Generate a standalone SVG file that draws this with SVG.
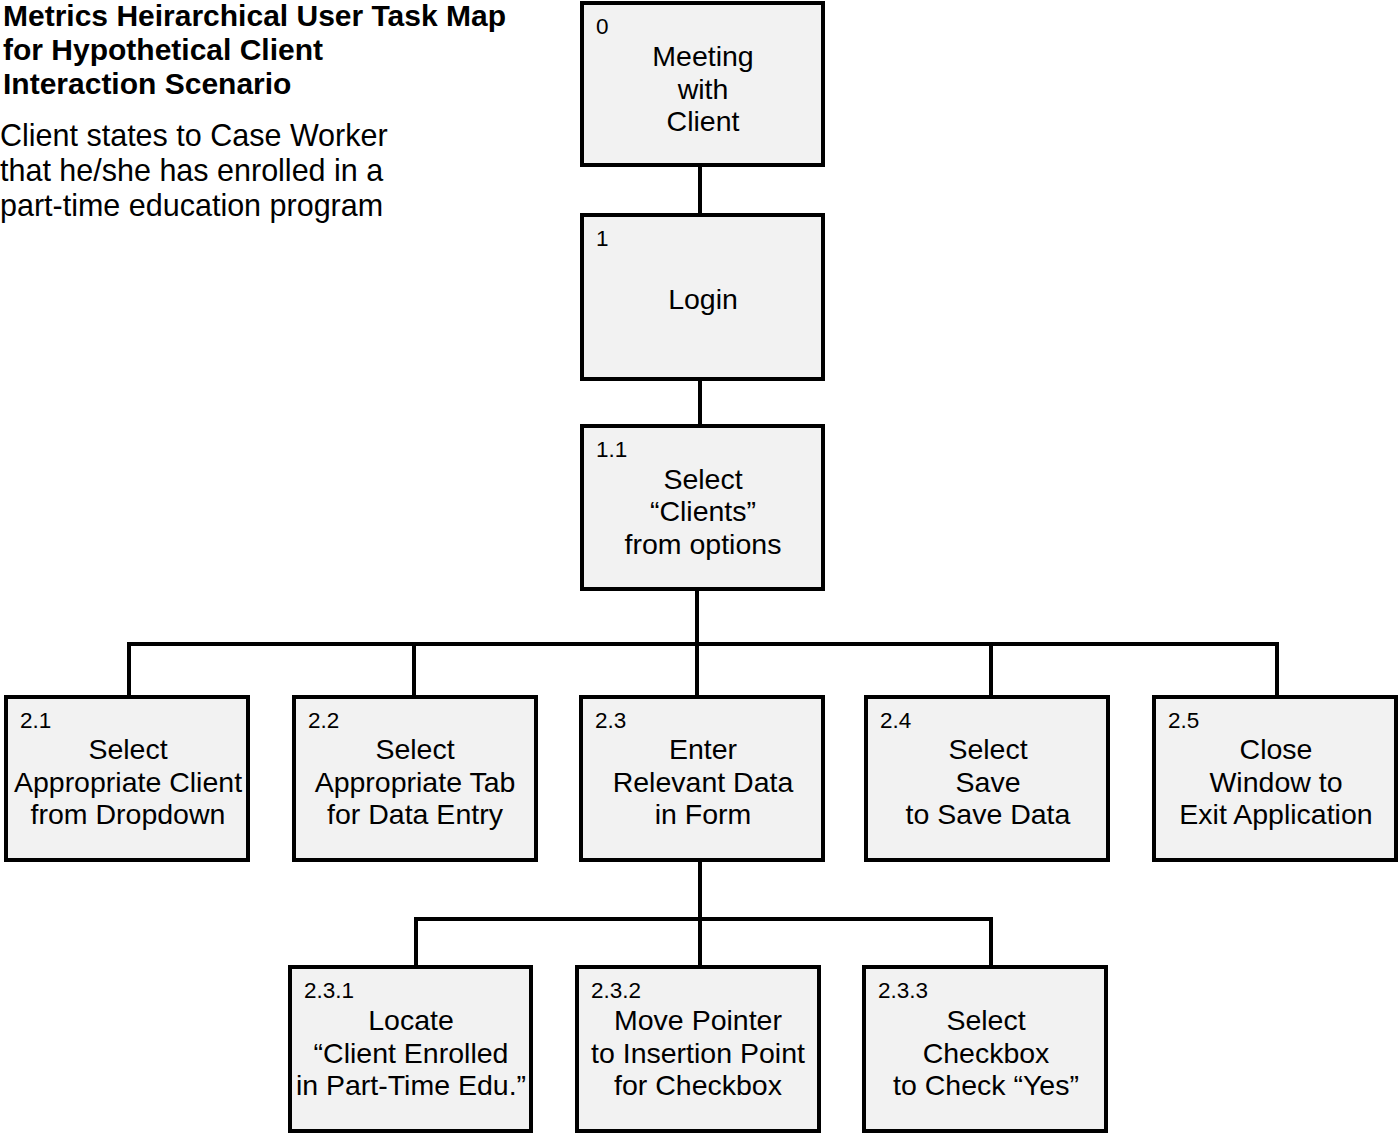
<svg xmlns="http://www.w3.org/2000/svg" width="1398" height="1134" viewBox="0 0 1398 1134">
<style>
.box{fill:#f2f2f2;stroke:#000;stroke-width:4}
.num{font-family:"Liberation Sans",Arial,sans-serif;font-size:22.5px;fill:#000}
.lbl{font-family:"Liberation Sans",Arial,sans-serif;font-size:28.5px;fill:#000;text-anchor:middle}
.title{font-family:"Liberation Sans",Arial,sans-serif;font-size:30px;font-weight:bold;fill:#000}
.desc{font-family:"Liberation Sans",Arial,sans-serif;font-size:30.5px;fill:#000}
.conn{fill:none;stroke:#000;stroke-width:4}
</style>
<rect width="1398" height="1134" fill="#fff"/>
<g id="title">
<text class="title" x="3" y="26">Metrics Heirarchical User Task Map</text>
<text class="title" x="3" y="60">for Hypothetical Client</text>
<text class="title" x="3" y="94">Interaction Scenario</text>
<text class="desc" x="0" y="146">Client states to Case Worker</text>
<text class="desc" x="0" y="181">that he/she has enrolled in a</text>
<text class="desc" x="0" y="216">part-time education program</text>
</g>
<g id="connectors">
<line class="conn" x1="700" y1="165" x2="700" y2="215"/>
<line class="conn" x1="700" y1="379" x2="700" y2="426"/>
<line class="conn" x1="697" y1="589" x2="697" y2="697"/>
<polyline class="conn" points="129,697 129,644 1277,644 1277,697"/>
<line class="conn" x1="414" y1="644" x2="414" y2="697"/>
<line class="conn" x1="991" y1="644" x2="991" y2="697"/>
<line class="conn" x1="700" y1="860" x2="700" y2="967"/>
<polyline class="conn" points="416,967 416,919 991,919 991,967"/>
</g>
<g id="n0"><rect class="box" x="582" y="3" width="241" height="162"/><text class="num" x="596" y="34">0</text><text class="lbl" x="703" y="66">Meeting</text><text class="lbl" x="703" y="99">with</text><text class="lbl" x="703" y="131">Client</text></g>
<g id="n1"><rect class="box" x="582" y="215" width="241" height="164"/><text class="num" x="596" y="246">1</text><text class="lbl" x="703" y="309">Login</text></g>
<g id="n1_1"><rect class="box" x="582" y="426" width="241" height="163"/><text class="num" x="596" y="457">1.1</text><text class="lbl" x="703" y="489">Select</text><text class="lbl" x="703" y="521">“Clients”</text><text class="lbl" x="703" y="554">from options</text></g>
<g id="n2_1"><rect class="box" x="6" y="697" width="242" height="163"/><text class="num" x="20" y="728">2.1</text><text class="lbl" x="128" y="759">Select</text><text class="lbl" x="128" y="792">Appropriate Client</text><text class="lbl" x="128" y="824">from Dropdown</text></g>
<g id="n2_2"><rect class="box" x="294" y="697" width="242" height="163"/><text class="num" x="308" y="728">2.2</text><text class="lbl" x="415" y="759">Select</text><text class="lbl" x="415" y="792">Appropriate Tab</text><text class="lbl" x="415" y="824">for Data Entry</text></g>
<g id="n2_3"><rect class="box" x="581" y="697" width="242" height="163"/><text class="num" x="595" y="728">2.3</text><text class="lbl" x="703" y="759">Enter</text><text class="lbl" x="703" y="792">Relevant Data</text><text class="lbl" x="703" y="824">in Form</text></g>
<g id="n2_4"><rect class="box" x="866" y="697" width="242" height="163"/><text class="num" x="880" y="728">2.4</text><text class="lbl" x="988" y="759">Select</text><text class="lbl" x="988" y="792">Save</text><text class="lbl" x="988" y="824">to Save Data</text></g>
<g id="n2_5"><rect class="box" x="1154" y="697" width="242" height="163"/><text class="num" x="1168" y="728">2.5</text><text class="lbl" x="1276" y="759">Close</text><text class="lbl" x="1276" y="792">Window to</text><text class="lbl" x="1276" y="824">Exit Application</text></g>
<g id="n2_3_1"><rect class="box" x="290" y="967" width="241" height="164"/><text class="num" x="304" y="998">2.3.1</text><text class="lbl" x="411" y="1030">Locate</text><text class="lbl" x="411" y="1063">“Client Enrolled</text><text class="lbl" x="411" y="1095">in Part-Time Edu.”</text></g>
<g id="n2_3_2"><rect class="box" x="577" y="967" width="242" height="164"/><text class="num" x="591" y="998">2.3.2</text><text class="lbl" x="698" y="1030">Move Pointer</text><text class="lbl" x="698" y="1063">to Insertion Point</text><text class="lbl" x="698" y="1095">for Checkbox</text></g>
<g id="n2_3_3"><rect class="box" x="864" y="967" width="242" height="164"/><text class="num" x="878" y="998">2.3.3</text><text class="lbl" x="986" y="1030">Select</text><text class="lbl" x="986" y="1063">Checkbox</text><text class="lbl" x="986" y="1095">to Check “Yes”</text></g>
</svg>
